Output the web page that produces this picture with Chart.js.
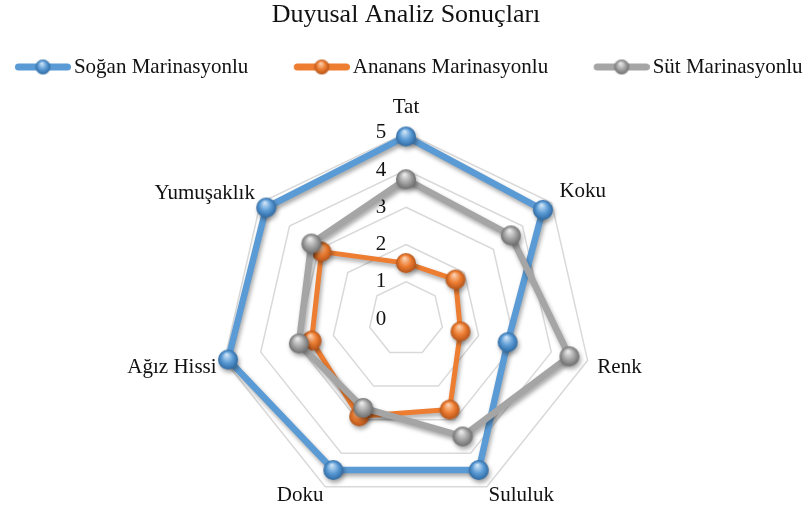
<!DOCTYPE html>
<html>
<head>
<meta charset="utf-8">
<script src="https://cdn.jsdelivr.net/npm/chart.js@4"></script>
<style>
  html, body { margin: 0; padding: 0; background: #fff; overflow: hidden; }
  #wrap { position: relative; width: 808px; height: 510px; overflow: hidden; }
  #radar { position: absolute; left: -44px; top: 0; }
</style>
</head>
<body>
<div id="wrap"><canvas id="radar" width="900" height="522"></canvas></div>
<script>
const categories = ['Tat', 'Koku', 'Renk', 'Sululuk', 'Doku', 'Ağız Hissi', 'Yumuşaklık'];
const seriesNames = ['Soğan Marinasyonlu', 'Ananans Marinasyonlu', 'Süt Marinasyonlu'];
const soganValues = [4.9, 4.7, 2.8, 4.5, 4.5, 4.9, 4.8];
const ananasValues = [1.5, 1.7, 1.5, 2.7, 2.9, 2.6, 2.9];
const sutValues = [3.75, 3.6, 4.5, 3.5, 2.65, 2.95, 3.25];
const tickMin = 0;
const tickMax = 5;
const tickStep = 1;

const serif = '"Liberation Serif", "Times New Roman", serif';
const textColor = '#111';
// label distance from the outer ring, per category
const labelPads = [19.75, 10, 10, 4, 4, 8, 7];

// excel-ish shaded ball marker
function sphere(base, light, dark, r) {
  const c = document.createElement('canvas');
  c.width = c.height = r * 2 + 2;
  const g = c.getContext('2d');
  const m = r + 1;
  const grad = g.createRadialGradient(m - r * 0.15, m - r * 0.5, r * 0.05, m, m, r);
  grad.addColorStop(0, light);
  grad.addColorStop(0.55, base);
  grad.addColorStop(1, dark);
  g.fillStyle = grad;
  g.beginPath();
  g.arc(m, m, r, 0, Math.PI * 2);
  g.fill();
  return c;
}

// legend swatch: thick line with a ball, drawn at the right side of the box
function swatch(base, light, dark) {
  const c = document.createElement('canvas');
  c.width = 69;
  c.height = 20;
  const g = c.getContext('2d');
  g.strokeStyle = base;
  g.lineWidth = 7;
  g.lineCap = 'round';
  g.beginPath();
  g.moveTo(16.5, 10);
  g.lineTo(65.5, 10);
  g.stroke();
  g.drawImage(sphere(base, light, dark, 7.5), 41 - 8.5, 10 - 8.5);
  return c;
}

const blue = ['#5B9BD5', '#cfe4f7', '#2f6aa3'];
const orange = ['#ED7D31', '#fbd2b3', '#b4541a'];
const grey = ['#A5A5A5', '#ececec', '#6e6e6e'];

const markers = [sphere(...blue, 10), sphere(...orange, 10), sphere(...grey, 10)];
const swatches = [swatch(...blue), swatch(...orange), swatch(...grey)];

const shadow = {
  id: 'shadow',
  beforeDatasetDraw(chart) {
    const ctx = chart.ctx;
    ctx.save();
    ctx.shadowColor = 'rgba(0,0,0,0.35)';
    ctx.shadowBlur = 4;
    ctx.shadowOffsetX = 1.5;
    ctx.shadowOffsetY = 3;
  },
  afterDatasetDraw(chart) {
    chart.ctx.restore();
  }
};

// value labels sit left of the vertical axis, like excel
const tickLabels = {
  id: 'tickLabels',
  beforeDatasetsDraw(chart) {
    const scale = chart.scales.r;
    const ctx = chart.ctx;
    ctx.save();
    ctx.font = '21px ' + serif;
    ctx.fillStyle = textColor;
    ctx.textAlign = 'center';
    ctx.textBaseline = 'middle';
    scale.ticks.forEach(t => {
      const y = scale.yCenter - scale.getDistanceFromCenterForValue(t.value);
      ctx.fillText(t.label, scale.xCenter - 25, y);
    });
    ctx.restore();
  }
};

new Chart(document.getElementById('radar'), {
  type: 'radar',
  data: {
    labels: categories,
    datasets: [
      { label: seriesNames[0], data: soganValues, borderColor: blue[0], borderWidth: 6.5, pointStyle: markers[0], pointRadius: 10, order: 3 },
      { label: seriesNames[1], data: ananasValues, borderColor: orange[0], borderWidth: 5, pointStyle: markers[1], pointRadius: 10, order: 2 },
      { label: seriesNames[2], data: sutValues, borderColor: grey[0], borderWidth: 6.5, pointStyle: markers[2], pointRadius: 10, order: 1 }
    ]
  },
  options: {
    responsive: false,
    animation: false,
    elements: {
      line: { fill: false, tension: 0, borderJoinStyle: 'round' }
    },
    plugins: {
      title: {
        display: true,
        text: 'Duyusal Analiz Sonuçları',
        color: textColor,
        font: { family: serif, size: 26, weight: 'normal', lineHeight: 1.2 },
        padding: { top: 0, bottom: -14.7 }
      },
      legend: {
        position: 'top',
        labels: {
          usePointStyle: true,
          pointStyleWidth: 54,
          padding: 40,
          color: textColor,
          font: { family: serif, size: 21 },
          generateLabels: chart => chart.data.datasets.map((ds, i) => ({
            text: ds.label,
            pointStyle: swatches[i],
            fillStyle: ds.borderColor,
            strokeStyle: ds.borderColor,
            lineWidth: 0,
            hidden: false,
            datasetIndex: i,
            fontColor: textColor
          }))
        }
      },
      tooltip: { enabled: false }
    },
    scales: {
      r: {
        min: tickMin,
        max: tickMax,
        beginAtZero: true,
        ticks: { stepSize: tickStep, display: false },
        grid: { color: '#D9D9D9', lineWidth: 1.5 },
        angleLines: { display: false },
        pointLabels: {
          color: textColor,
          font: { family: serif, size: 21, lineHeight: 0.5 },
          padding: ctx => labelPads[ctx.index]
        }
      }
    }
  },
  plugins: [shadow, tickLabels]
});
</script>
</body>
</html>
